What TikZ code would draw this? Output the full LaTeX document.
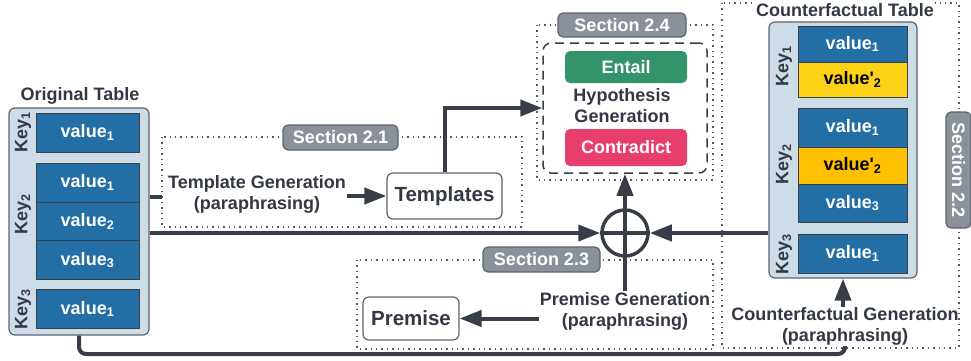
\documentclass[tikz,border=0pt]{standalone}
\usepackage{fontspec}
\setmainfont{Liberation Sans}
\usetikzlibrary{arrows.meta}
\definecolor{cellblue}{HTML}{236EA4}
\definecolor{celledge}{HTML}{3A3F48}
\definecolor{tblfill}{HTML}{CCDDE8}
\definecolor{tblborder}{HTML}{5B6470}
\definecolor{linecol}{HTML}{383D47}
\definecolor{txtdark}{HTML}{333842}
\definecolor{secfill}{HTML}{8B919B}
\definecolor{secborder}{HTML}{5E636C}
\definecolor{dotcol}{HTML}{555A62}
\definecolor{entailgreen}{HTML}{33936B}
\definecolor{contrapink}{HTML}{E83E6C}
\definecolor{yellowA}{HTML}{FCD116}
\definecolor{yellowB}{HTML}{FFC000}
\newcommand{\sub}[1]{\textsubscript{#1}}
\begin{document}
\begin{tikzpicture}[x=1pt,y=-1pt,
  font=\bfseries\fontsize{18}{21}\selectfont,
  tablebox/.style={draw=tblborder, fill=tblfill, rounded corners=6, line width=1.2, inner sep=0},
  cellnode/.style={draw=celledge, fill=cellblue, text=white, line width=1, minimum width=103, minimum height=39, inner sep=0},
  ccell/.style={cellnode, minimum width=109},
  keylab/.style={rotate=90, text=txtdark, inner sep=0},
  seclabel/.style={draw=secborder, fill=secfill, text=white, rounded corners=5, line width=1.2, inner sep=0, minimum height=25},
  dotbox/.style={draw=dotcol, line width=1.4, dash pattern=on 1.4pt off 4pt},
  conn/.style={draw=linecol, line width=4},
  arr/.style={conn, -{Triangle[length=22pt,width=16pt]}},
  gentext/.style={text=txtdark, align=center, inner sep=1},
  outbox/.style={draw=tblborder, fill=white, rounded corners=6, line width=1.2, text=txtdark, font=\bfseries\fontsize{20.5}{24}\selectfont, inner sep=0},
  labbox/.style={rounded corners=5, text=white, inner sep=0, minimum width=122}
]
\useasboundingbox (0,0) rectangle (971,360);

% ---------- dotted section boxes ----------
\draw[dotbox] (162,137) rectangle (522,227);
\draw[dotbox] (537,25) rectangle (713,180);
\draw[dotbox] (357,260) rectangle (713,349);
\draw[dotbox] (722,3) rectangle (959,348);

% ---------- Original table ----------
\node[gentext] (otitle) at (80,96) {Original Table};
\node[tablebox, minimum width=140, minimum height=227] (otab) at (79,221.5) {};
\node[cellnode] (o1) at (87.5,132.5) {value\sub{1}};
\node[cellnode] (o21) at (87.5,182.5) {value\sub{1}};
\node[cellnode] (o22) at (87.5,221.5) {value\sub{2}};
\node[cellnode] (o23) at (87.5,260) {value\sub{3}};
\node[cellnode] (o3) at (87.5,309) {value\sub{1}};
\node[keylab] (ok1) at (23,132) {Key\sub{1}};
\node[keylab] (ok2) at (23,214) {Key\sub{2}};
\node[keylab] (ok3) at (23,309) {Key\sub{3}};

% ---------- Counterfactual table ----------
\node[gentext, fill=white] (ctitle) at (845,10) {Counterfactual Table};
\node[tablebox, minimum width=148, minimum height=256] (ctab) at (843,150) {};
\node[ccell, minimum height=36] (c11) at (852.5,44) {value\sub{1}};
\node[ccell, minimum height=35, fill=yellowA, text=black] (c12) at (852.5,79.5) {value\textquotesingle\sub{2}};
\node[ccell] (c21) at (852.5,127.5) {value\sub{1}};
\node[ccell, minimum height=37, fill=yellowB, text=black] (c22) at (852.5,165.5) {value\textquotesingle\sub{2}};
\node[ccell, minimum height=38] (c23) at (852.5,203) {value\sub{3}};
\node[ccell] (c3) at (852.5,253.5) {value\sub{1}};
\node[keylab] (ck1) at (784,66) {Key\sub{1}};
\node[keylab] (ck2) at (784,164) {Key\sub{2}};
\node[keylab] (ck3) at (784,254) {Key\sub{3}};

% ---------- Section labels ----------
\node[seclabel, minimum width=115] (s21) at (340.5,137.5) {Section 2.1};
\node[seclabel, minimum width=128, minimum height=24] (s24) at (622,25) {Section 2.4};
\node[seclabel, minimum width=117] (s23) at (541.5,259.5) {Section 2.3};
\node[seclabel, minimum width=116, rotate=-90] (s22) at (958.5,170) {Section 2.2};

% ---------- Template generation ----------
\node[gentext] (tg) at (257,194) {Template Generation\\(paraphrasing)};
\node[outbox, minimum width=115, minimum height=46] (tmpl) at (444.5,196) {Templates};
\coordinate (stub) at (162,197);

% ---------- Hypothesis generation ----------
\node[draw=linecol, line width=1.5, dash pattern=on 9pt off 6pt, rounded corners=8, minimum width=164, minimum height=130, inner sep=0] (hyp) at (625,108) {};
\node[labbox, fill=entailgreen, minimum height=32] (ent) at (626,67) {Entail};
\node[labbox, fill=contrapink, minimum height=37] (con) at (626,147.5) {Contradict};
\node[gentext] (hyptext) at (622,106) {Hypothesis\\Generation};

% ---------- combination ----------
\node[circle, draw=linecol, line width=3.5, minimum size=46, inner sep=0] (oplus) at (625,233) {};

% ---------- Premise generation ----------
\node[gentext] (pg) at (625,311) {Premise Generation\\(paraphrasing)};
\node[outbox, minimum width=96, minimum height=43] (prem) at (411,318.5) {Premise};

% ---------- Counterfactual generation ----------
\node[gentext] (cg) at (845,326) {Counterfactual Generation\\(paraphrasing)};

% ---------- connectors ----------
\draw[conn] (otab.east |- stub) -- (stub);
\draw[arr] (tg.east |- tmpl.west) -- (tmpl.west);
\draw[arr] (tmpl.north) |- (hyp.west);
\draw[arr] (otab.east |- oplus) -- (oplus.west);
\draw[arr] (ctab.west |- oplus) -- (oplus.east);
\draw[conn] (pg.north) -- (oplus.south);
\draw[conn, line width=3.5] (oplus.south) -- (oplus.north);
\draw[conn, line width=3.5] (oplus.west) -- (oplus.east);
\draw[arr] (oplus.north) -- (hyp.south);
\draw[arr] (pg.west |- prem.east) -- (prem.east);
\draw[arr] (cg.north -| ctab.south) ++(0,1) -- (ctab.south);
\draw[conn, rounded corners=7] (otab.south) -- (79,354) -| (cg.south);
\end{tikzpicture}
\end{document}
